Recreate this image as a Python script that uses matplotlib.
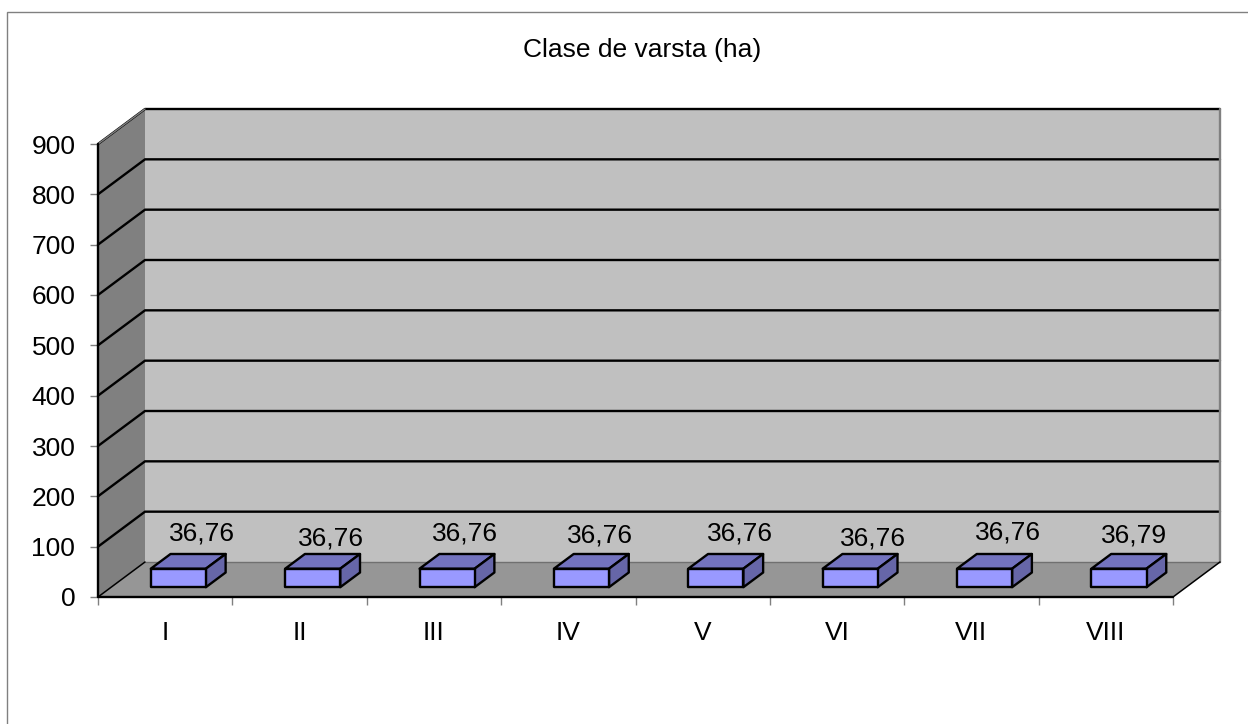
#!/usr/bin/env python3

import matplotlib
matplotlib.use('Agg')
import matplotlib.pyplot as plt
from matplotlib.patches import Polygon, Rectangle

plt.rcParams['font.family'] = ['Liberation Sans', 'DejaVu Sans']

# Chart data
categories = ['I', 'II', 'III', 'IV', 'V', 'VI', 'VII', 'VIII']
values = [36.76, 36.76, 36.76, 36.76, 36.76, 36.76, 36.76, 36.79]
y_ticks = [0, 100, 200, 300, 400, 500, 600, 700, 800, 900]

# Hand placed data labels, pixels from the front top centre of each bar
label_dx = [24, 18, 18, 19, 24, 23, 23, 15]
label_dy = [35, 30, 35, 33, 35, 30, 36, 33]

W, H = 1248, 724
fig = plt.figure(figsize=(W / 100, H / 100), dpi=100, facecolor='white')

# Outer chart frame runs off the right and bottom of the picture
fig.add_artist(Rectangle((7 / W, -0.01), 1.1, 1 - 12 / H + 0.01, transform=fig.transFigure,
                         facecolor='white', edgecolor='#808080', linewidth=1, zorder=-1))

# Axes box is the front face of the fake 3D chart
ax = fig.add_axes([98 / W, 1 - 597 / H, (1173 - 98) / W, (597 - 144) / H])
ax.set_xlim(0, len(categories))
ax.set_ylim(0, y_ticks[-1])
ax.patch.set_visible(False)
for s in ax.spines.values():
    s.set_visible(False)

# Depth of the box in data units
depth_x = 47 / 134.4
depth_y = 35 / 453 * 900


def project(x, y, d):
    return (x + d * depth_x, y + d * depth_y)


def face(points, color, edge='none', lw=0, z=1):
    ax.add_patch(Polygon([project(*p) for p in points], closed=True, facecolor=color,
                         edgecolor=edge, linewidth=lw, clip_on=False, zorder=z, joinstyle='round'))


n = len(categories)
top = y_ticks[-1]

# Walls and floor
face([(0, 0, 1), (n, 0, 1), (n, top, 1), (0, top, 1)], '#c0c0c0')
face([(0, 0, 0), (0, 0, 1), (0, top, 1), (0, top, 0)], '#808080')
face([(0, 0, 0), (n, 0, 0), (n, 0, 1), (0, 0, 1)], '#969696')


def line(points, color='black', lw=1.7, z=2):
    xs, ys = zip(*[project(*p) for p in points])
    ax.plot(xs, ys, color=color, linewidth=lw, clip_on=False, zorder=z, solid_capstyle='round')


# Gridlines wrap round the side wall and back wall
for v in y_ticks[1:]:
    line([(0, v, 0), (0, v, 1), (n, v, 1)])
line([(0, top, 0), (0, top, 1)], color='#808080', lw=1)
line([(n, 0, 1), (n, top, 1)], color='#808080', lw=1.7)
line([(0, 0, 1), (n, 0, 1)], color='#707070', lw=1)
line([(0, 0, 0), (0, top, 0)], lw=1.7)
line([(0, 0, 0), (n, 0, 0)], lw=1.7)
line([(0, 0, 0), (0, 0, 1)], lw=1.1)
line([(n, 0, 0), (n, 0, 1)], lw=1.1)

# Bars
bar_w = 0.41
d0, d1 = 0.28, 0.7
for i, v in enumerate(values):
    x0 = i + 0.5 - bar_w / 2
    x1 = i + 0.5 + bar_w / 2
    face([(x0, v, d0), (x1, v, d0), (x1, v, d1), (x0, v, d1)], '#7373bf', 'black', 1.7, 3)
    face([(x1, 0, d0), (x1, 0, d1), (x1, v, d1), (x1, v, d0)], '#6666a8', 'black', 1.7, 3)
    face([(x0, 0, d0), (x1, 0, d0), (x1, v, d0), (x0, v, d0)], '#9999ff', 'black', 1.7, 4)
    lx, ly = project(i + 0.5, v, d0)
    ax.annotate(f'{v:.2f}'.replace('.', ','), xy=(lx, ly), xytext=(label_dx[i], label_dy[i]),
                textcoords='offset pixels', ha='center', va='center', fontsize=19, color='black', zorder=5)

# Axis ticks and labels
ax.set_yticks(y_ticks)
ax.tick_params(axis='y', length=5.8, width=1, color='#808080', pad=10.5, labelsize=19)
ax.set_xticks(range(n + 1))
ax.set_xticklabels([])
ax.set_xticks([i + 0.5 for i in range(n)], minor=True)
ax.set_xticklabels(categories, minor=True)
ax.tick_params(axis='x', which='major', length=5.8, width=1, color='#808080')
ax.tick_params(axis='x', which='minor', length=0, pad=17, labelsize=19)

fig.text(642 / W, 1 - 50 / H, 'Clase de varsta (ha)', ha='center', va='center', fontsize=19)

fig.savefig('out.png', dpi=100)
